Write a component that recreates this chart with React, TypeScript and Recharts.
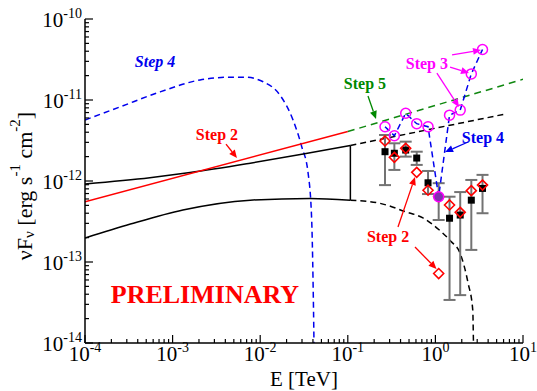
import React from "react";
import {
  ComposedChart,
  Line,
  Scatter,
  XAxis,
  YAxis,
  ErrorBar,
  ReferenceLine,
  ReferenceDot,
  Label,
} from "recharts";

// axis decades and their exponent labels
const xMajor = [1e-4, 1e-3, 1e-2, 1e-1, 1, 10];
const xExp = ["-4", "-3", "-2", "-1", "0", "1"];
const yMajor = [1e-14, 1e-13, 1e-12, 1e-11, 1e-10];
const yExp = ["-14", "-13", "-12", "-11", "-10"];

// Fermi bow-tie (solid black) and its extrapolation (dashed black)
const bowUpperE = [1e-4, 5.5e-4, 1.58e-3, 7.7e-3, 0.031, 0.107];
const bowUpperF = [9.2e-13, 1.1e-12, 1.27e-12, 1.66e-12, 2.15e-12, 2.74e-12];
const bowLowerE = [1e-4, 3.3e-4, 1.31e-3, 7.7e-3, 0.037, 0.107];
const bowLowerF = [1.98e-13, 2.94e-13, 4.39e-13, 5.8e-13, 6.1e-13, 5.8e-13];
const extUpperE = [0.107, 6.0];
const extUpperF = [2.74e-12, 6.65e-12];
const extLowerE = [0.107, 0.233, 0.45, 0.72, 1.1, 1.5, 1.91, 2.36, 2.67, 2.72, 2.75];
const extLowerF = [5.8e-13, 5.3e-13, 4.2e-13, 3.5e-13, 2.5e-13, 1.8e-13, 1.29e-13, 5.5e-14, 2.55e-14, 1e-14, 5e-15];

// Step 2 (red) and Step 5 (green) power law
const step2E = [1e-4, 0.1];
const step2F = [5.55e-13, 4.08e-12];
const step5E = [0.1, 10];
const step5F = [4.08e-12, 1.8e-11];

// Step 4 (blue dashed) cascade bump
const step4E = [1e-4, 2.5e-4, 7.2e-4, 2.06e-3, 4.5e-3, 6.7e-3, 0.0108, 0.0168, 0.0237, 0.0298, 0.0352, 0.0387, 0.0401, 0.0411, 0.0415];
const step4F = [5.66e-12, 8.2e-12, 1.26e-11, 1.77e-11, 1.91e-11, 1.91e-11, 1.68e-11, 1.15e-11, 5.66e-12, 2.65e-12, 1.26e-12, 3.3e-13, 6e-14, 1e-14, 4e-15];

// measured points (black squares with grey errors)
const obsE = [0.266, 0.34, 0.458, 0.612, 0.824, 1.09, 1.45, 1.92, 2.57, 3.45];
const obsF = [2.3e-12, 2.2e-12, 2.41e-12, 1.92e-12, 9.5e-13, 6.4e-13, 3.47e-13, 3.8e-13, 5.8e-13, 8.1e-13];
const obsLo = [8.9e-13, 1.37e-12, 2.0e-12, 1.58e-12, 6.9e-13, 3.3e-13, 3.4e-14, 3.9e-14, 1.41e-13, 4.0e-13];
const obsHi = [3.7e-12, 2.92e-12, 3.06e-12, 2.3e-12, 1.33e-12, 9.4e-13, 6.4e-13, 7.3e-13, 1.03e-12, 1.19e-12];

// Step 2 points (red diamonds)
const redE = [0.266, 0.34, 0.458, 0.612, 0.824, 1.09, 1.45, 1.92, 2.57, 3.45, 1.09];
const redF = [3.12e-12, 1.96e-12, 2.53e-12, 1.28e-12, 7.7e-13, 6.4e-13, 5.06e-13, 4.1e-13, 7.6e-13, 8.9e-13, 7.2e-14];

// Step 3 points (magenta circles joined by blue dashes)
const magE = [0.266, 0.34, 0.458, 0.612, 0.824, 1.09, 1.45, 1.92, 2.57, 3.45];
const magF = [4.68e-12, 3.62e-12, 6.85e-12, 5.1e-12, 4.68e-12, 6.4e-13, 6.5e-12, 7.5e-12, 2.1e-11, 4.2e-11];
const magFilled = [false, false, false, false, false, true, false, false, false, false];

const pts = (es: number[], fs: number[]) => es.map((e, i) => ({ e, f: fs[i] }));

const bowUpper = pts(bowUpperE, bowUpperF);
const bowLower = pts(bowLowerE, bowLowerF);
const bowEdge = [
  { e: bowUpperE[bowUpperE.length - 1], f: bowUpperF[bowUpperF.length - 1] },
  { e: bowLowerE[bowLowerE.length - 1], f: bowLowerF[bowLowerF.length - 1] },
];
const extUpper = pts(extUpperE, extUpperF);
const extLower = pts(extLowerE, extLowerF);
const step2 = pts(step2E, step2F);
const step5 = pts(step5E, step5F);
const step4 = pts(step4E, step4F);
const obs = obsE.map((e, i) => ({ e, f: obsF[i], err: [obsF[i] - obsLo[i], obsHi[i] - obsF[i]] }));
const reds = pts(redE, redF);
const mags = magE.map((e, i) => ({ e, f: magF[i], filled: magFilled[i] }));

const minors = (majors: number[]) => {
  const out: number[] = [];
  majors.forEach((m, i) => {
    out.push(m);
    if (i < majors.length - 1) for (let k = 2; k <= 9; k++) out.push(m * k);
  });
  return out;
};
const xTicks = minors(xMajor);
const yTicks = minors(yMajor);

const serif = "'Liberation Serif', 'Times New Roman', serif";

const majorIdx = (majors: number[], v: number) =>
  majors.findIndex((m) => Math.abs(Math.log10(m) - Math.log10(v)) < 1e-6);

function BottomTick(props: any) {
  const { x, y, payload } = props;
  const i = majorIdx(xMajor, payload.value);
  return (
    <g>
      <line x1={x} y1={y} x2={x} y2={y - (i >= 0 ? 8 : 4)} stroke="#000" strokeWidth={1.2} />
      {i >= 0 && (
        <text x={x} y={y + 18} textAnchor="middle" fontFamily={serif} fontSize={21} fill="#000">
          10<tspan dy={-9} fontSize={14}>{xExp[i]}</tspan>
        </text>
      )}
    </g>
  );
}

function TopTick(props: any) {
  const { x, y, payload } = props;
  const i = majorIdx(xMajor, payload.value);
  return <line x1={x} y1={y} x2={x} y2={y + (i >= 0 ? 8 : 4)} stroke="#000" strokeWidth={1.2} />;
}

function LeftTick(props: any) {
  const { x, y, payload } = props;
  const i = majorIdx(yMajor, payload.value);
  return (
    <g>
      <line x1={x} y1={y} x2={x + (i >= 0 ? 8 : 4)} y2={y} stroke="#000" strokeWidth={1.2} />
      {i >= 0 && (
        <text x={x - 3} y={y + 8} textAnchor="end" fontFamily={serif} fontSize={21} fill="#000">
          10<tspan dy={-9} fontSize={14}>{yExp[i]}</tspan>
        </text>
      )}
    </g>
  );
}

function RightTick(props: any) {
  const { x, y, payload } = props;
  const i = majorIdx(yMajor, payload.value);
  return <line x1={x} y1={y} x2={x - (i >= 0 ? 8 : 4)} y2={y} stroke="#000" strokeWidth={1.2} />;
}

const Square = (p: any) => <rect x={p.cx - 3.5} y={p.cy - 3.5} width={7} height={7} fill="#000" />;
const Diamond = (p: any) => (
  <polygon
    points={`${p.cx},${p.cy - 5} ${p.cx + 5},${p.cy} ${p.cx},${p.cy + 5} ${p.cx - 5},${p.cy}`}
    fill="none"
    stroke="#ff0000"
    strokeWidth={1.6}
  />
);
const MagDot = (p: any) => (
  <circle
    key={p.index}
    cx={p.cx}
    cy={p.cy}
    r={5}
    fill={p.payload && p.payload.filled ? "#8030b0" : "none"}
    stroke="#ff00ff"
    strokeWidth={1.5}
  />
);

const arrowShape = (color: string) => (p: any) => {
  const { x1, y1, x2, y2 } = p;
  const a = Math.atan2(y2 - y1, x2 - x1);
  const L = 8;
  const W = 3.5;
  const bx = x2 - L * Math.cos(a);
  const by = y2 - L * Math.sin(a);
  const nx = -Math.sin(a) * W;
  const ny = Math.cos(a) * W;
  return (
    <g>
      <line x1={x1} y1={y1} x2={bx} y2={by} stroke={color} strokeWidth={1.3} />
      <polygon points={`${x2},${y2} ${bx + nx},${by + ny} ${bx - nx},${by - ny}`} fill={color} />
    </g>
  );
};

// annotation text placed in data coordinates
const notes = [
  { text: "Step 4", e: 6.3e-4, f: 2.95e-11, color: "#0000ee", italic: true, size: 16 },
  { text: "Step 5", e: 0.157, f: 1.62e-11, color: "#008800", italic: false, size: 16 },
  { text: "Step 3", e: 0.8, f: 2.86e-11, color: "#ff00ff", italic: false, size: 16 },
  { text: "Step 4", e: 3.49, f: 3.49e-12, color: "#0000ee", italic: false, size: 16 },
  { text: "Step 2", e: 3.21e-3, f: 3.7e-12, color: "#ff0000", italic: false, size: 16 },
  { text: "Step 2", e: 0.288, f: 2.04e-13, color: "#ff0000", italic: false, size: 16 },
  { text: "PRELIMINARY", e: 2.34e-3, f: 3.92e-14, color: "#ff0000", italic: false, size: 26 },
];

const arrows = [
  { color: "#008800", from: [0.17, 1.12e-11], to: [0.21, 5.82e-12] },
  { color: "#ff00ff", from: [1.55, 3.6e-11], to: [3.32, 4.14e-11] },
  { color: "#ff00ff", from: [1.47, 2.55e-11], to: [2.42, 2.15e-11] },
  { color: "#ff00ff", from: [1.04, 2.15e-11], to: [1.86, 8.2e-12] },
  { color: "#0000ee", from: [2.36, 3.03e-12], to: [1.29, 2.28e-12] },
  { color: "#ff0000", from: [4.07e-3, 2.86e-12], to: [5.43e-3, 1.92e-12] },
  { color: "#ff0000", from: [0.374, 2.7e-13], to: [0.585, 1.12e-12] },
  { color: "#ff0000", from: [0.585, 1.53e-13], to: [1.03, 8.2e-14] },
];

export default function App() {
  return (
    <div style={{ position: "absolute", left: 0, top: 0, background: "#fff" }}>
      <ComposedChart width={537} height={391} margin={{ top: 19, right: 14, bottom: 0, left: 0 }}>
        <XAxis
          dataKey="e"
          type="number"
          scale="log"
          domain={[1e-4, 10]}
          allowDataOverflow
          ticks={xTicks}
          interval={0}
          tickSize={0}
          tickMargin={0}
          tick={<BottomTick />}
          axisLine={{ stroke: "#000", strokeWidth: 1.5 }}
          height={48}
        >
          <Label
            content={(p: any) => (
              <text
                x={p.viewBox.x + p.viewBox.width / 2}
                y={p.viewBox.y + 43}
                textAnchor="middle"
                fontFamily={serif}
                fontSize={21}
                fill="#000"
              >
                E [TeV]
              </text>
            )}
          />
        </XAxis>
        <XAxis
          xAxisId="top"
          orientation="top"
          type="number"
          scale="log"
          domain={[1e-4, 10]}
          allowDataOverflow
          ticks={xTicks}
          interval={0}
          tickSize={0}
          tickMargin={0}
          tick={<TopTick />}
          axisLine={{ stroke: "#000", strokeWidth: 1.5 }}
          height={0}
        />
        <YAxis
          dataKey="f"
          type="number"
          scale="log"
          domain={[1e-14, 1e-10]}
          allowDataOverflow
          ticks={yTicks}
          interval={0}
          tickSize={0}
          tickMargin={0}
          tick={<LeftTick />}
          axisLine={{ stroke: "#000", strokeWidth: 1.5 }}
          width={85}
        >
          <Label
            content={(p: any) => {
              const cx = 24;
              const cy = p.viewBox.y + p.viewBox.height / 2 + 5;
              return (
                <text
                  x={cx}
                  y={cy}
                  transform={`rotate(-90 ${cx} ${cy})`}
                  textAnchor="middle"
                  dominantBaseline="central"
                  fontFamily={serif}
                  fontSize={22}
                  fill="#000"
                >
                  νF
                  <tspan dy={5} fontSize={15}>ν</tspan>
                  <tspan dy={-5}> [erg s</tspan>
                  <tspan dy={-9} fontSize={15}>-1</tspan>
                  <tspan dy={9}> cm</tspan>
                  <tspan dy={-9} fontSize={15}>-2</tspan>
                  <tspan dy={9}>]</tspan>
                </text>
              );
            }}
          />
        </YAxis>
        <YAxis
          yAxisId="right"
          orientation="right"
          type="number"
          scale="log"
          domain={[1e-14, 1e-10]}
          allowDataOverflow
          ticks={yTicks}
          interval={0}
          tickSize={0}
          tickMargin={0}
          tick={<RightTick />}
          axisLine={{ stroke: "#000", strokeWidth: 1.5 }}
          width={0}
        />

        <Line data={step4} dataKey="f" type="monotone" stroke="#0000ee" strokeWidth={1.5} strokeDasharray="6 4" dot={false} isAnimationActive={false} />
        <Line data={bowUpper} dataKey="f" type="monotone" stroke="#000" strokeWidth={1.5} dot={false} isAnimationActive={false} />
        <Line data={bowLower} dataKey="f" type="monotone" stroke="#000" strokeWidth={1.5} dot={false} isAnimationActive={false} />
        <Line data={bowEdge} dataKey="f" type="linear" stroke="#000" strokeWidth={1.5} dot={false} isAnimationActive={false} />
        <Line data={extUpper} dataKey="f" type="linear" stroke="#000" strokeWidth={1.5} strokeDasharray="6 4" dot={false} isAnimationActive={false} />
        <Line data={extLower} dataKey="f" type="monotone" stroke="#000" strokeWidth={1.5} strokeDasharray="6 4" dot={false} isAnimationActive={false} />
        <Line data={step2} dataKey="f" type="linear" stroke="#ff0000" strokeWidth={1.5} dot={false} isAnimationActive={false} />
        <Line data={step5} dataKey="f" type="linear" stroke="#108810" strokeWidth={1.5} strokeDasharray="7 5" dot={false} isAnimationActive={false} />

        <Scatter data={obs} dataKey="f" shape={Square} isAnimationActive={false}>
          <ErrorBar dataKey="err" direction="y" width={6} stroke="#737373" strokeWidth={2} isAnimationActive={false} />
        </Scatter>
        <Scatter data={reds} dataKey="f" shape={Diamond} isAnimationActive={false} />
        <Line
          data={mags}
          dataKey="f"
          type="linear"
          stroke="#0000ee"
          strokeWidth={1.5}
          strokeDasharray="6 4"
          dot={MagDot}
          isAnimationActive={false}
        />

        {arrows.map((a, i) => (
          <ReferenceLine
            key={`a${i}`}
            segment={[
              { x: a.from[0], y: a.from[1] },
              { x: a.to[0], y: a.to[1] },
            ]}
            shape={arrowShape(a.color)}
          />
        ))}
        {notes.map((n, i) => (
          <ReferenceDot
            key={`n${i}`}
            x={n.e}
            y={n.f}
            r={1}
            shape={(p: any) => (
              <text
                x={p.cx}
                y={p.cy}
                textAnchor="middle"
                dominantBaseline="central"
                fontFamily={serif}
                fontWeight="bold"
                fontStyle={n.italic ? "italic" : "normal"}
                fontSize={n.size}
                fill={n.color}
              >
                {n.text}
              </text>
            )}
          />
        ))}
      </ComposedChart>
    </div>
  );
}
